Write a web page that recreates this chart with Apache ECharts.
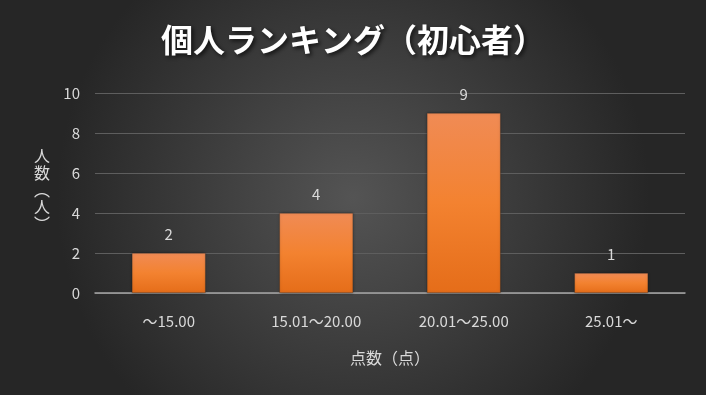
<!DOCTYPE html>
<html><head><meta charset="utf-8">
<script src="https://cdn.jsdelivr.net/npm/echarts@6/dist/echarts.min.js"></script>
<style>html,body{margin:0;padding:0;background:#333}#c{width:706px;height:395px}</style>
</head><body><div id="c"></div>
<script>
const titleText = '個人ランキング（初心者）';
const categories = ['～15.00', '15.01～20.00', '20.01～25.00', '25.01～'];
const counts = [2, 4, 9, 1];
const yTicks = { min: 0, max: 10, interval: 2 };
const xName = '点数（点）';
const yName = '人\n数\n︵\n人\n︶';
const font = '"Noto Sans CJK JP", "Noto Sans", sans-serif';

const chart = echarts.init(document.getElementById('c'), null, { renderer: 'canvas' });
chart.setOption({
  backgroundColor: {
    type: 'radial', x: 0.5, y: 0.5, r: 0.75,
    colorStops: [{ offset: 0, color: '#545454' }, { offset: 1, color: '#262626' }]
  },
  animation: false,
  title: {
    text: titleText, left: 'center', top: 19,
    textStyle: { color: '#ffffff', fontSize: 32, fontWeight: 'bold', fontFamily: font,
      textShadowColor: 'rgba(0,0,0,0.7)', textShadowBlur: 4, textShadowOffsetX: 2, textShadowOffsetY: 2 }
  },
  grid: { left: 95, right: 21, top: 93, bottom: 102, containLabel: false },
  xAxis: {
    type: 'category', data: categories,
    name: xName, nameLocation: 'middle', nameGap: 57,
    nameTextStyle: { color: '#d9d9d9', fontSize: 16, fontFamily: font },
    axisLine: { lineStyle: { color: '#a6a6a6', width: 1.5 } },
    axisTick: { show: false },
    axisLabel: { color: '#d9d9d9', fontSize: 15, fontFamily: font, margin: 21 }
  },
  yAxis: {
    type: 'value', min: yTicks.min, max: yTicks.max, interval: yTicks.interval,
    axisLine: { show: false }, axisTick: { show: false },
    axisLabel: { color: '#d9d9d9', fontSize: 15, fontFamily: font, margin: 15 },
    splitLine: { lineStyle: { color: '#5e5e5e', width: 1 } }
  },
  graphic: [{
    type: 'text', left: 34, top: 147,
    style: { text: yName, fill: '#d9d9d9', font: '16px ' + font, lineHeight: 17, align: 'center' }
  }],
  series: [{
    type: 'bar', data: counts, barWidth: '50%',
    itemStyle: {
      color: { type: 'linear', x: 0, y: 0, x2: 0, y2: 1,
        colorStops: [{ offset: 0, color: '#f08b55' }, { offset: 0.5, color: '#f38230' }, { offset: 1, color: '#e56d19' }] },
      borderColor: 'rgba(40,40,40,0.6)', borderWidth: 0.5,
      shadowColor: 'rgba(0,0,0,0.4)', shadowBlur: 3
    },
    label: { show: true, position: 'top', distance: 11, color: '#d9d9d9', fontSize: 15, fontFamily: font }
  }]
});
</script></body></html>
